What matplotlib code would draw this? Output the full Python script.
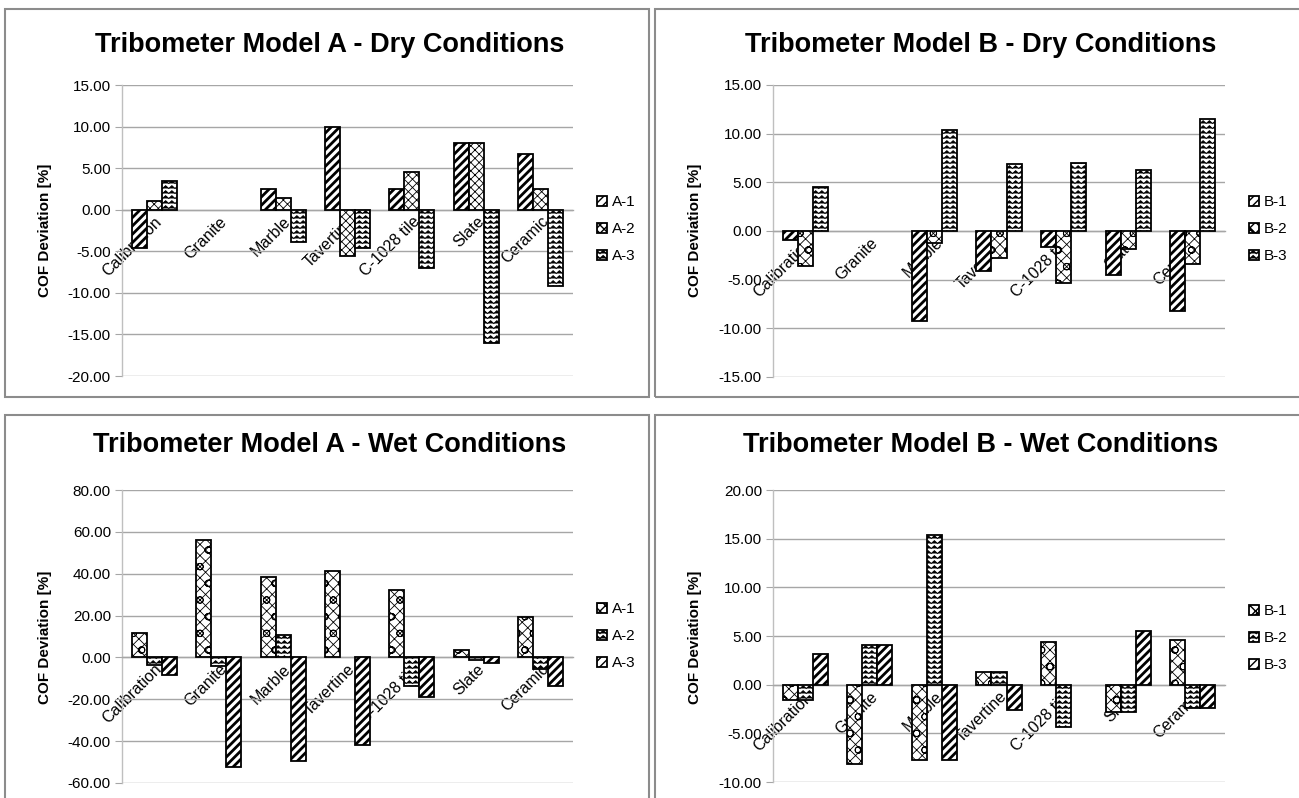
import numpy as np
import matplotlib
matplotlib.use('Agg')
import matplotlib.pyplot as plt
import matplotlib.hatch as mhatch
from matplotlib.path import Path
from matplotlib.patches import Rectangle

W, H = 1299, 798

categories = ['Calibration', 'Granite', 'Marble', 'Tavertine', 'C-1028 tile', 'Slate', 'Ceramic']

# Tribometer A, dry
a_dry_1 = [-4.55, np.nan, 2.5, 10.0, 2.5, 8.0, 6.7]
a_dry_2 = [1.1, np.nan, 1.4, -5.55, 4.55, 8.0, 2.5]
a_dry_3 = [3.4, np.nan, -3.85, -4.55, -7.0, -16.0, -9.2]

# Tribometer B, dry
b_dry_1 = [-0.93, np.nan, -9.2, -4.1, -1.6, -4.5, -8.25]
b_dry_2 = [-3.6, np.nan, -1.2, -2.75, -5.3, -1.8, -3.35]
b_dry_3 = [4.5, np.nan, 10.35, 6.9, 7.0, 6.25, 11.55]

# Tribometer A, wet
a_wet_1 = [11.8, 55.9, 38.5, 41.4, 32.0, 3.7, 19.3]
a_wet_2 = [-3.8, -4.2, 10.5, np.nan, -13.7, -1.1, -5.6]
a_wet_3 = [-8.6, -52.2, -49.4, -41.9, -18.7, -2.7, -13.7]

# Tribometer B, wet
b_wet_1 = [-1.6, -8.2, -7.7, 1.27, 4.4, -2.8, 4.6]
b_wet_2 = [-1.6, 4.1, 15.35, 1.27, -4.4, -2.8, -2.35]
b_wet_3 = [3.1, 4.1, -7.7, -2.57, np.nan, 5.5, -2.35]

names_a = ['A-1', 'A-2', 'A-3']
names_b = ['B-1', 'B-2', 'B-3']


# excel-like "wave" fill, registered in place of the star hatch ('*')
WAVE_PEAKS = 16
WAVE_ROWS = 20


class WaveHatch(mhatch.HatchPatternBase):
    def __init__(self, hatch, density):
        self.num_rows = hatch.count('*') * WAVE_ROWS
        self.num_vertices = self.num_rows * (2 * WAVE_PEAKS + 1)

    def set_vertices_and_codes(self, vertices, codes):
        n = 2 * WAVE_PEAKS + 1
        xs = np.linspace(0, 1, n)
        ys = (np.arange(n) % 2) * 0.028
        for r in range(self.num_rows):
            y0 = (r + 0.3) / self.num_rows
            vertices[r * n:(r + 1) * n, 0] = xs
            vertices[r * n:(r + 1) * n, 1] = y0 + ys
            codes[r * n] = Path.MOVETO
            codes[r * n + 1:(r + 1) * n] = Path.LINETO


mhatch._hatch_types[-1] = WaveHatch

DIAG, CROSS, CROSSO, WAVE = '////', 'xxxx', 'xxxo', '*'
HATCH_LW = {DIAG: 2.0, CROSS: 0.6, CROSSO: 0.6, WAVE: 0.7}

plt.rcParams['font.family'] = ['Liberation Sans', 'DejaVu Sans']

fig = plt.figure(figsize=(W / 100, H / 100), dpi=100)

grid_col = '#a6a6a6'


def make_bars(ax, x, vals, width, hatch, label):
    with plt.rc_context({'hatch.linewidth': HATCH_LW[hatch]}):
        bars = ax.bar(x, vals, width, color='white', edgecolor='black',
                      linewidth=1.3, hatch=hatch, label=label, zorder=3)
        for b in bars:
            if hasattr(b, 'set_hatch_linewidth'):
                b.set_hatch_linewidth(HATCH_LW[hatch])
    return bars


def panel(rect, series, names, hatches, ylim, step, title, title_xy, ylab_xy, leg_xy):
    l, t, r, b = rect
    ax = fig.add_axes([l / W, 1 - b / H, (r - l) / W, (b - t) / H])
    x = np.arange(len(categories))
    w = 0.233
    for j, (vals, name, hatch) in enumerate(zip(series, names, hatches)):
        make_bars(ax, x + (j - 1) * w, vals, w, hatch, name)
    ax.set_xlim(-0.5, len(categories) - 0.5)
    ax.set_ylim(*ylim)
    ax.set_yticks(np.arange(ylim[0], ylim[1] + step / 2, step))
    ax.yaxis.set_major_formatter(matplotlib.ticker.FormatStrFormatter('%.2f'))
    ax.grid(axis='y', color=grid_col, linewidth=1.0, zorder=0)
    ax.set_axisbelow(True)
    for s in ['top', 'right']:
        ax.spines[s].set_visible(False)
    ax.spines['left'].set_color('#bfbfbf')
    ax.spines['left'].set_linewidth(1.0)
    ax.spines['bottom'].set_position(('data', 0))
    ax.spines['bottom'].set_color(grid_col)
    ax.spines['bottom'].set_linewidth(1.0)
    ax.tick_params(axis='y', direction='out', length=5, color=grid_col,
                   labelsize=11, pad=3)
    ax.set_xticks(x)
    ax.set_xticklabels(categories, rotation=45, ha='right', va='top',
                       rotation_mode='anchor', fontsize=11.5)
    ax.tick_params(axis='x', length=0, pad=3)
    fig.text(title_xy[0] / W, 1 - title_xy[1] / H, title, ha='center', va='center',
             fontsize=19.5, fontweight='bold')
    fig.text(ylab_xy[0] / W, 1 - ylab_xy[1] / H, 'COF Deviation [%]', rotation=90,
             ha='center', va='center', fontsize=11, fontweight='bold')
    ax.legend(loc='center left', bbox_to_anchor=(leg_xy[0] / W, 1 - leg_xy[1] / H),
              bbox_transform=fig.transFigure, frameon=False, fontsize=11,
              handlelength=0.65, handleheight=0.65, handletextpad=0.3,
              labelspacing=0.85, borderaxespad=0, borderpad=0)
    return ax


panel((122, 85, 573, 376), [a_dry_1, a_dry_2, a_dry_3], names_a,
      [DIAG, CROSS, WAVE], (-20, 15), 5,
      'Tribometer Model A - Dry Conditions', (330, 45), (45, 230), (597, 229))
panel((773, 85, 1225, 377), [b_dry_1, b_dry_2, b_dry_3], names_b,
      [DIAG, CROSSO, WAVE], (-15, 15), 5,
      'Tribometer Model B - Dry Conditions', (981, 45), (695, 230), (1249, 229))
panel((122, 490, 573, 783), [a_wet_1, a_wet_2, a_wet_3], names_a,
      [CROSSO, WAVE, DIAG], (-60, 80), 20,
      'Tribometer Model A - Wet Conditions', (330, 445), (45, 637), (597, 636))
panel((773, 490, 1225, 782), [b_wet_1, b_wet_2, b_wet_3], names_b,
      [CROSSO, WAVE, DIAG], (-10, 20), 5,
      'Tribometer Model B - Wet Conditions', (981, 445), (695, 637), (1249, 638))

# chart area borders
for (x0, y0, x1, y1) in [(5, 9, 649, 397), (655, 9, 1310, 397),
                         (5, 415, 649, 820), (655, 415, 1310, 820)]:
    fig.patches.append(Rectangle((x0 / W, 1 - y1 / H), (x1 - x0) / W, (y1 - y0) / H,
                                 transform=fig.transFigure, fill=False,
                                 edgecolor='#8c8c8c', linewidth=1.5))

fig.savefig('out.png', dpi=100)
